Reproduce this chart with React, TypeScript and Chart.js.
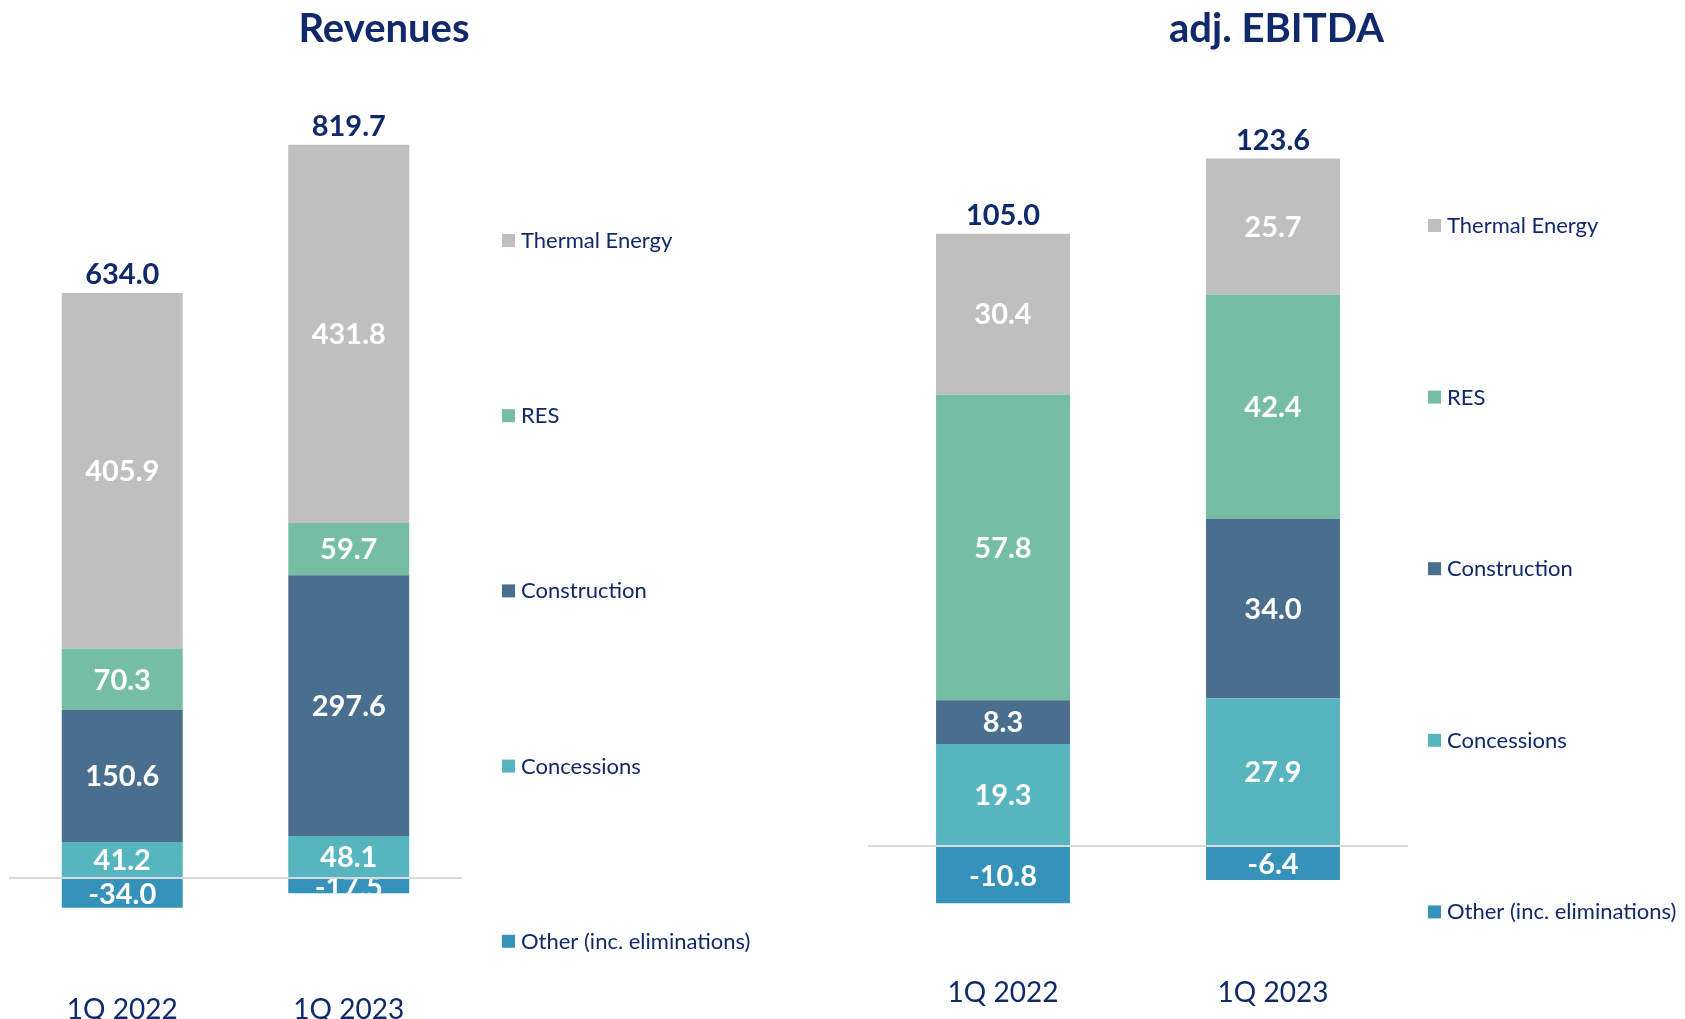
import React, { useEffect, useRef } from 'react';
import { Chart, registerables } from 'chart.js';

Chart.register(...registerables);

const categories = ['1Q 2022', '1Q 2023'];
// stacking order (bottom to top), then the negative series
const seriesNames = ['Concessions', 'Construction', 'RES', 'Thermal Energy', 'Other (inc. eliminations)'];
const seriesColors = ['#57b5c0', '#4a6f8e', '#75bea5', '#bfbfbf', '#3593bb'];
const legendOrder = [3, 2, 1, 0, 4];

const revConcessions = [41.2, 48.1];
const revConstruction = [150.6, 297.6];
const revRES = [70.3, 59.7];
const revThermal = [405.9, 431.8];
const revOther = [-34.0, -17.5];
const revTotals = [634.0, 819.7];

const ebConcessions = [19.3, 27.9];
const ebConstruction = [8.3, 34.0];
const ebRES = [57.8, 42.4];
const ebThermal = [30.4, 25.7];
const ebOther = [-10.8, -6.4];
const ebTotals = [105.0, 123.6];

const NAVY = '#10296a';
const FONT = "Lato, 'Open Sans', sans-serif";

Chart.defaults.font.family = FONT;

type PanelCfg = {
  title: string;
  series: number[][];
  totals: number[];
  yMin: number;
  yMax: number;
  leftW: number;
  rightW: number;
  xAxisH: number;
  xPad: number;
  barPct: number;
  legendX: number;
  legendY: number;
  legendGap: number;
};

function makePlugin(cfg: PanelCfg) {
  return {
    id: 'customLabels',
    afterDatasetsDraw(chart: any) {
      const ctx = chart.ctx;
      ctx.save();
      chart.data.datasets.forEach((ds: any, di: number) => {
        const meta = chart.getDatasetMeta(di);
        meta.data.forEach((bar: any, i: number) => {
          const v = ds.data[i] as number;
          const p = bar.getProps(['x', 'y', 'base', 'width'], true);
          const top = Math.min(p.y, p.base);
          const bottom = Math.max(p.y, p.base);
          ctx.save();
          ctx.beginPath();
          ctx.rect(p.x - p.width / 2, top, p.width, bottom - top);
          ctx.clip();
          ctx.fillStyle = '#ffffff';
          ctx.font = `bold 29px ${FONT}`;
          ctx.textAlign = 'center';
          ctx.textBaseline = 'middle';
          ctx.fillText(v.toFixed(1), p.x, (top + bottom) / 2 + 1);
          ctx.restore();
        });
      });
      const topMeta = chart.getDatasetMeta(3);
      topMeta.data.forEach((bar: any, i: number) => {
        const p = bar.getProps(['x', 'y'], true);
        ctx.fillStyle = NAVY;
        ctx.font = `bold 29px ${FONT}`;
        ctx.textAlign = 'center';
        ctx.textBaseline = 'alphabetic';
        ctx.fillText(cfg.totals[i].toFixed(1), p.x, p.y - 9);
      });
      ctx.restore();
    },
    afterDraw(chart: any) {
      const ctx = chart.ctx;
      ctx.save();
      legendOrder.forEach((idx, k) => {
        const y = cfg.legendY + k * cfg.legendGap;
        ctx.fillStyle = seriesColors[idx];
        ctx.fillRect(cfg.legendX, y - 7, 13, 13);
        ctx.fillStyle = NAVY;
        ctx.font = `22px ${FONT}`;
        ctx.textAlign = 'left';
        ctx.textBaseline = 'middle';
        ctx.fillText(seriesNames[idx], cfg.legendX + 19, y);
      });
      ctx.restore();
    },
  };
}

function makeConfig(cfg: PanelCfg): any {
  return {
    type: 'bar',
    data: {
      labels: categories,
      datasets: cfg.series.map((d, i) => ({
        label: seriesNames[i],
        data: d,
        backgroundColor: seriesColors[i],
        borderWidth: 0,
        barPercentage: cfg.barPct,
        categoryPercentage: 1,
      })),
    },
    options: {
      responsive: false,
      animation: false,
      devicePixelRatio: 1,
      layout: { padding: 0 },
      plugins: {
        legend: { display: false },
        tooltip: { enabled: false },
        title: {
          display: true,
          text: cfg.title,
          color: NAVY,
          font: { size: 40, weight: 'bold', family: FONT, lineHeight: 1.2 },
          padding: { top: 5, bottom: 36.8 },
        },
      },
      scales: {
        x: {
          stacked: true,
          grid: { display: false },
          border: { display: false },
          ticks: { color: NAVY, font: { size: 28, family: FONT }, padding: cfg.xPad },
          afterFit: (s: any) => {
            s.height = cfg.xAxisH;
          },
        },
        y: {
          stacked: true,
          min: cfg.yMin,
          max: cfg.yMax,
          position: 'left',
          z: 1,
          ticks: { display: false, stepSize: cfg.yMax > 300 ? 100 : 20 },
          border: { display: false },
          grid: {
            drawTicks: false,
            lineWidth: 2,
            color: (c: any) => (c.tick && c.tick.value === 0 ? '#d9d9d9' : 'rgba(0,0,0,0)'),
          },
          afterFit: (s: any) => {
            s.width = cfg.leftW;
          },
        },
        yR: {
          type: 'linear',
          position: 'right',
          display: true,
          grid: { display: false },
          border: { display: false },
          ticks: { display: false },
          afterFit: (s: any) => {
            s.width = cfg.rightW;
          },
        },
      },
    },
    plugins: [makePlugin(cfg)],
  };
}

const revCfg: PanelCfg = {
  title: 'Revenues',
  series: [revConcessions, revConstruction, revRES, revThermal, revOther],
  totals: revTotals,
  yMin: -100,
  yMax: 900,
  leftW: 9,
  rightW: 306,
  xAxisH: 53.4,
  xPad: 20,
  barPct: 0.534,
  legendX: 502,
  legendY: 241,
  legendGap: 175.2,
};

const ebCfg: PanelCfg = {
  title: 'adj. EBITDA',
  series: [ebConcessions, ebConstruction, ebRES, ebThermal, ebOther],
  totals: ebTotals,
  yMin: -20,
  yMax: 143,
  leftW: 0,
  rightW: 277,
  xAxisH: 67.1,
  xPad: 16,
  barPct: 0.496,
  legendX: 560,
  legendY: 226,
  legendGap: 171.6,
};

function Panel({ cfg, left, width, height }: { cfg: PanelCfg; left: number; width: number; height: number }) {
  const ref = useRef<HTMLCanvasElement | null>(null);
  useEffect(() => {
    if (!ref.current) return;
    const chart = new Chart(ref.current, makeConfig(cfg));
    return () => chart.destroy();
  }, [cfg]);
  return (
    <canvas
      ref={ref}
      width={width}
      height={height}
      style={{ position: 'absolute', left, top: 0, width, height, display: 'block' }}
    />
  );
}

export default function App() {
  return (
    <div style={{ position: 'fixed', left: 0, top: 0, width: 1685, height: 1019, background: '#ffffff', overflow: 'hidden' }}>
      <Panel cfg={revCfg} left={0} width={768} height={1019} />
      <Panel cfg={ebCfg} left={868} width={817} height={1019} />
    </div>
  );
}
